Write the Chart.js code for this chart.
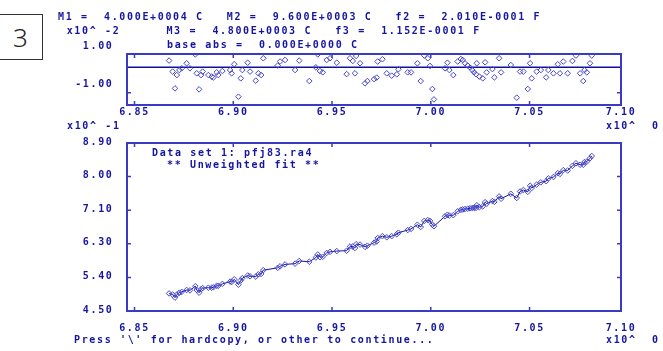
<!DOCTYPE html>
<html>
<head>
<meta charset="utf-8">
<script src="https://cdn.jsdelivr.net/npm/chart.js@4.4.1/dist/chart.umd.min.js"></script>
<style>
  html, body { margin: 0; padding: 0; background: #fff; }
  #wrap { position: relative; width: 663px; height: 351px; overflow: hidden; }
  canvas { position: absolute; left: 0; top: 0; }
  .txt {
    position: absolute;
    font: bold 10px "DejaVu Sans Mono", monospace;
    letter-spacing: 1.65px;
    line-height: 10px;
    white-space: pre;
    color: #1414a0;
  }
  #tag {
    position: absolute; left: -2px; top: 14px; width: 45px; height: 46px;
    border: 1px solid #333; box-sizing: border-box;
    font: 300 26px "Noto Sans", sans-serif; color: #222;
    display: flex; align-items: center; justify-content: center;
  }
</style>
</head>
<body>
<div id="wrap">
  <div id="tag">3</div>
  <canvas id="resid" width="663" height="130"></canvas>
  <canvas id="main" width="663" height="351"></canvas>
  <div class="txt" style="left:58px; top:12px;">M1 =  4.000E+0004 C   M2 =  9.600E+0003 C   f2 =  2.010E-0001 F</div>
  <div class="txt" style="left:59px; top:26px;"> x10^ -2      M3 =  4.800E+0003 C   f3 =  1.152E-0001 F</div>
  <div class="txt" style="left:167px; top:40px;">base abs =  0.000E+0000 C</div>
  <div class="txt" style="left:67px; top:121px;">x10^ -1</div>
  <div class="txt" style="left:606px; top:121px;">x10^  0</div>
  <div class="txt" style="left:152px; top:148px;">Data set 1: pfj83.ra4</div>
  <div class="txt" style="left:167px; top:160px;">** Unweighted fit **</div>
  <div class="txt" style="left:74px; top:335px;">Press '\' for hardcopy, or other to continue...</div>
  <div class="txt" style="left:606px; top:335px;">x10^  0</div>
</div>
<script>
// Data
const xValues = [
  6.8675, 6.8693, 6.8705, 6.8714, 6.8727, 6.8739, 6.8764, 6.8781, 6.8808, 6.8815,
  6.8827, 6.8837, 6.8845, 6.8874, 6.8891, 6.8899, 6.8916, 6.8924, 6.8945, 6.8984,
  6.8992, 6.9005, 6.9026, 6.9038, 6.9046, 6.9073, 6.9085, 6.9114, 6.9127, 6.9141,
  6.9152, 6.9225, 6.9237, 6.9262, 6.9313, 6.9334, 6.9385, 6.9418, 6.9428, 6.9439,
  6.9453, 6.9473, 6.9490, 6.9524, 6.9574, 6.9591, 6.9605, 6.9616, 6.9622, 6.9642,
  6.9667, 6.9679, 6.9713, 6.9726, 6.9731, 6.9755, 6.9777, 6.9802, 6.9828, 6.9836,
  6.9883, 6.9900, 6.9932, 6.9949, 6.9967, 6.9985, 6.9996, 7.0008, 7.0016, 7.0072,
  7.0084, 7.0094, 7.0114, 7.0136, 7.0152, 7.0162, 7.0173, 7.0187, 7.0199, 7.0210,
  7.0219, 7.0229, 7.0233, 7.0246, 7.0263, 7.0275, 7.0283, 7.0312, 7.0322, 7.0346,
  7.0356, 7.0405, 7.0435, 7.0452, 7.0469, 7.0491, 7.0503, 7.0511, 7.0536, 7.0557,
  7.0584, 7.0595, 7.0621, 7.0643, 7.0654, 7.0671, 7.0693, 7.0717, 7.0735, 7.0756,
  7.0772, 7.0778, 7.0790, 7.0806, 7.0815
];

// measured values (x10^-1)
const yValues = [
  4.96, 4.93, 4.85, 4.93, 4.98, 5.00, 5.05, 5.04, 5.15, 5.05,
  4.98, 5.07, 5.10, 5.11, 5.11, 5.12, 5.16, 5.16, 5.21, 5.27,
  5.26, 5.33, 5.19, 5.30, 5.36, 5.43, 5.41, 5.40, 5.46, 5.47,
  5.57, 5.63, 5.67, 5.72, 5.74, 5.81, 5.79, 5.90, 5.98, 5.91,
  5.92, 6.02, 6.05, 6.07, 6.08, 6.19, 6.19, 6.15, 6.25, 6.24,
  6.18, 6.21, 6.29, 6.32, 6.41, 6.46, 6.43, 6.46, 6.51, 6.55,
  6.62, 6.65, 6.76, 6.70, 6.86, 6.88, 6.86, 6.76, 6.72, 6.98,
  7.02, 7.00, 7.01, 7.11, 7.15, 7.16, 7.17, 7.18, 7.19, 7.20,
  7.20, 7.20, 7.27, 7.22, 7.24, 7.35, 7.31, 7.38, 7.36, 7.50,
  7.44, 7.57, 7.46, 7.63, 7.67, 7.62, 7.78, 7.72, 7.81, 7.87,
  7.90, 7.97, 8.01, 8.11, 8.09, 8.19, 8.18, 8.30, 8.37, 8.33,
  8.33, 8.40, 8.41, 8.50, 8.56
];

// residuals (x10^-2)
const residuals = [
  0.66, 0.09, -0.78, -0.09, 0.17, 0.26, 0.52, 0.26, 0.98, 0.00,
  -0.83, -0.09, 0.09, -0.09, -0.17, -0.22, 0.05, -0.09, 0.12, 0.17,
  0.00, 0.47, -1.21, -0.26, 0.17, 0.55, 0.09, -0.38, 0.00, -0.09,
  0.78, 0.40, 0.61, 0.69, 0.17, 0.66, -0.40, 0.31, 0.98, 0.12,
  0.05, 0.69, 0.78, 0.55, -0.04, 0.78, 0.64, 0.00, 0.90, 0.52,
  -0.52, -0.40, -0.30, -0.22, 0.61, 0.73, 0.00, -0.12, -0.05, 0.21,
  0.05, 0.05, 0.52, -0.40, 0.92, 0.78, 0.38, -0.81, -1.35, 0.26,
  0.55, 0.17, -0.09, 0.61, 0.74, 0.69, 0.52, 0.40, 0.30, 0.17,
  0.05, -0.05, 0.52, -0.17, -0.26, 0.57, 0.05, 0.22, -0.21, 0.78,
  0.05, 0.43, -1.26, 0.09, 0.09, -0.81, 0.52, -0.26, 0.09, 0.17,
  -0.21, 0.17, 0.00, 0.47, 0.00, 0.61, 0.00, 0.64, 0.92, 0.00,
  -0.40, 0.17, 0.05, 0.52, 0.92
];
const baseLevel = 0.31;

// axes
const xMin = 6.8462, xMax = 7.0963;
const xTickValues = [6.85, 6.90, 6.95, 7.00, 7.05, 7.0963];
const xTickLabels = ['6.85', '6.90', '6.95', '7.00', '7.05', '7.10'];

const yMin = 4.50, yMax = 8.90;
const yTickValues = [4.50, 5.38, 6.26, 7.14, 8.02, 8.90];
const yTickLabels = ['4.50', '5.40', '6.30', '7.10', '8.00', '8.90'];

const rMin = -1.64, rMax = 1.00;
const rTickValues = [-1.00, 1.00];
const rTickLabels = ['-1.00', '1.00'];

const colors = {
    text: '#1414a0',
    axis: '#3a3ac4',
    point: '#4646cc',
    line: '#10109c'
};

const tickFont = { family: '"DejaVu Sans Mono", monospace', size: 10, weight: 'bold' };

// box around plot area + small inward tick marks on every side
const framePlugin = {
    id: 'frame',
    beforeDraw(chart) {
        chart.ctx.letterSpacing = '1.65px';
    },
    afterDraw(chart) {
        const { ctx, chartArea: a, scales } = chart;
        ctx.save();
        ctx.letterSpacing = '0px';
        ctx.strokeStyle = colors.axis;
        ctx.lineWidth = 2;
        ctx.strokeRect(a.left, a.top, a.right - a.left, a.bottom - a.top);
        ctx.lineWidth = 1.5;
        ctx.beginPath();
        scales.x.ticks.forEach(t => {
            const px = scales.x.getPixelForValue(t.value);
            if (px < a.left + 3 || px > a.right - 3) return;
            ctx.moveTo(px, a.top); ctx.lineTo(px, a.top + 4);
            ctx.moveTo(px, a.bottom); ctx.lineTo(px, a.bottom - 4);
        });
        scales.y.ticks.forEach(t => {
            const py = scales.y.getPixelForValue(t.value);
            if (py < a.top + 3 || py > a.bottom - 3) return;
            ctx.moveTo(a.left, py); ctx.lineTo(a.left + 4, py);
            ctx.moveTo(a.right, py); ctx.lineTo(a.right - 4, py);
        });
        ctx.stroke();
        ctx.restore();
    }
};

function xScale(labelPad, boxHeight) {
    return {
        type: 'linear', min: xMin, max: xMax,
        afterBuildTicks: s => { s.ticks = xTickValues.map(v => ({ value: v })); },
        afterFit: s => { s.height = boxHeight; },
        grid: { display: false, drawTicks: false },
        border: { display: false },
        ticks: {
            autoSkip: false, maxRotation: 0, padding: labelPad,
            color: colors.text, font: tickFont,
            callback: (v, i) => xTickLabels[i]
        }
    };
}

function yScale(min, max, values, labels, offset) {
    return {
        type: 'linear', min: min, max: max,
        afterBuildTicks: s => { s.ticks = values.map(v => ({ value: v })); },
        afterFit: s => { s.width = 127; },
        grid: { display: false, drawTicks: false },
        border: { display: false },
        ticks: {
            autoSkip: false, padding: 13.5, labelOffset: offset,
            color: colors.text, font: tickFont,
            callback: (v, i) => labels[i]
        }
    };
}

const commonPlugins = { legend: { display: false }, tooltip: { enabled: false } };

// Residuals panel
new Chart(document.getElementById('resid').getContext('2d'), {
    type: 'scatter',
    data: {
        datasets: [
            {
                data: xValues.map((x, i) => ({ x: x, y: residuals[i] })),
                pointStyle: 'rectRot', pointRadius: 2.8,
                borderColor: colors.point, backgroundColor: 'transparent', borderWidth: 1
            },
            {
                type: 'line',
                data: [{ x: xMin, y: baseLevel }, { x: xMax, y: baseLevel }],
                borderColor: colors.line, borderWidth: 1.5, pointRadius: 0
            }
        ]
    },
    options: {
        responsive: false, animation: false,
        layout: { padding: { top: 54, right: 42, left: 0, bottom: 0 } },
        scales: {
            x: xScale(1, 25),
            y: yScale(rMin, rMax, rTickValues, rTickLabels, -8)
        },
        plugins: commonPlugins
    },
    plugins: [framePlugin]
});

// Main data panel
new Chart(document.getElementById('main').getContext('2d'), {
    type: 'scatter',
    data: {
        datasets: [{
            data: xValues.map((x, i) => ({ x: x, y: yValues[i] })),
            showLine: true,
            borderColor: colors.line, borderWidth: 1,
            pointStyle: 'rectRot', pointRadius: 2.8,
            pointBorderColor: colors.point, pointBackgroundColor: 'transparent', pointBorderWidth: 1
        }]
    },
    options: {
        responsive: false, animation: false,
        layout: { padding: { top: 143, right: 42, left: 0, bottom: 0 } },
        scales: {
            x: xScale(11, 40),
            y: yScale(yMin, yMax, yTickValues, yTickLabels, -1)
        },
        plugins: commonPlugins
    },
    plugins: [framePlugin]
});
</script>
</body>
</html>
